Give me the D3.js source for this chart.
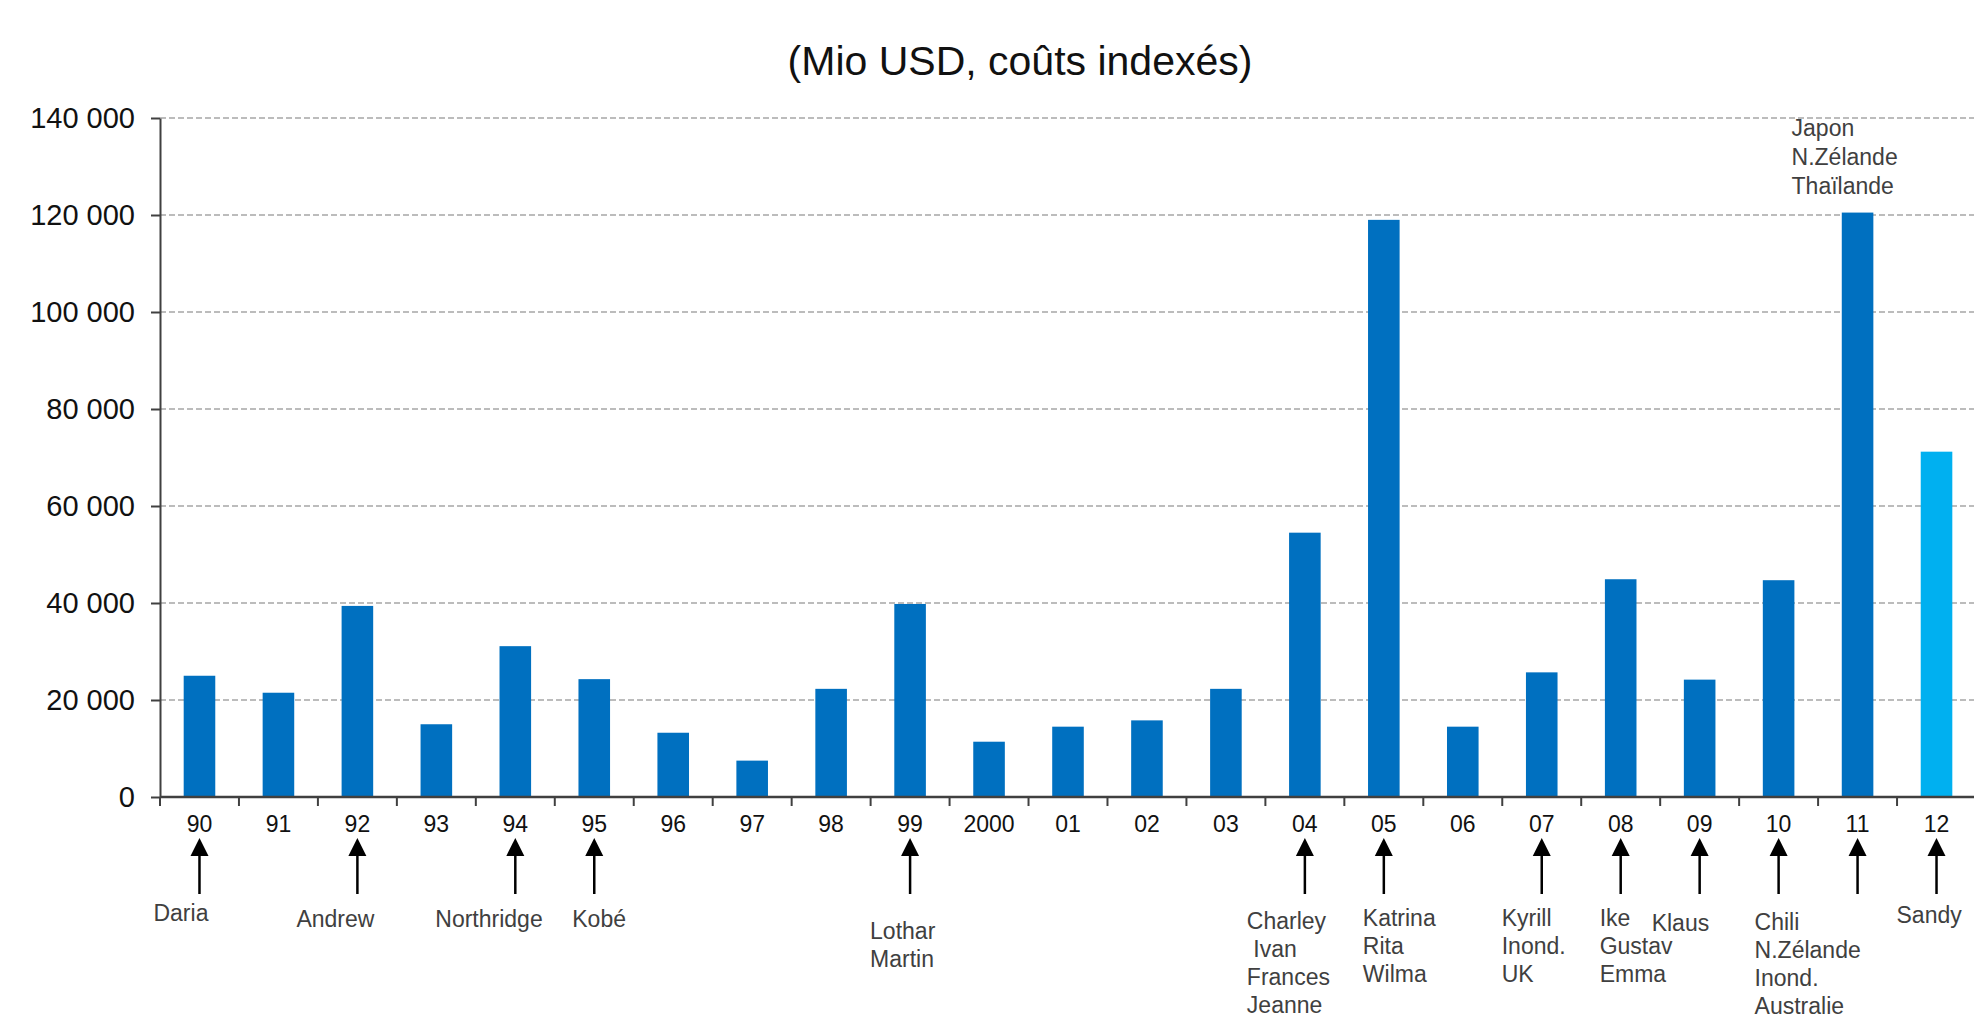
<!DOCTYPE html>
<html>
<head>
<meta charset="utf-8">
<script src="https://cdn.jsdelivr.net/npm/d3@7"></script>
<style>
  body { margin: 0; background: #fff; }
  text { font-family: "Liberation Sans", Arial, sans-serif; }
</style>
</head>
<body>
<script>
// data
const years = ["90","91","92","93","94","95","96","97","98","99","2000","01","02","03","04","05","06","07","08","09","10","11","12"];
const costs = [25000,21500,39400,15000,31100,24300,13250,7500,22300,39800,11400,14500,15800,22300,54500,119000,14500,25700,44900,24200,44700,120500,71200];
const yTicks = [0,20000,40000,60000,80000,100000,120000,140000];
const arrowYears = ["90","92","94","95","99","04","05","07","08","09","10","11","12"];
const noteYears = ["90","92","94","95","99","04","05","07","08","09","10","12"];
const noteLines = [["Daria"],["Andrew"],["Northridge"],["Kobé"],["Lothar","Martin"],
  ["Charley"," Ivan","Frances","Jeanne"],["Katrina","Rita","Wilma"],["Kyrill","Inond.","UK"],
  ["Ike","Gustav","Emma"],["Klaus"],["Chili","N.Zélande","Inond.","Australie"],["Sandy"]];
const topNoteYear = "11";
const topNoteLines = ["Japon","N.Zélande","Thaïlande"];
const title = "(Mio USD, coûts indexés)";

// layout of the notes (offset from the bar centre, y of the first line)
const noteDx = [-46,-61,-80,-22,-40,-58,-21,-40,-21,-48,-24,-40];
const noteTop = [913,919,919,919,931,921,918,918,918,923,922,915];

const w = 1974, h = 1022;
const padLeft = 160, padTop = 118, axisY = 797, padRight = 1976;

const svg = d3.select("body").append("svg")
  .attr("width", w).attr("height", h);

const x = d3.scaleBand().domain(years).range([padLeft, padRight])
  .paddingInner(0.6).paddingOuter(0.3);
const y = d3.scaleLinear().domain([0, 140000]).range([axisY, padTop]);

const fmt = d3.formatLocale({decimal: ",", thousands: " ", grouping: [3], currency: ["", ""]}).format(",");

svg.append("text")
  .attr("x", 1020).attr("y", 75)
  .attr("text-anchor", "middle")
  .style("font-size", "41px")
  .attr("fill", "#111")
  .text(title);

// grid
svg.append("g").selectAll("line")
  .data(yTicks.filter(d => d > 0))
  .enter().append("line")
  .attr("x1", padLeft).attr("x2", w)
  .attr("y1", d => y(d)).attr("y2", d => y(d))
  .attr("stroke", "#a6a6a6").attr("stroke-width", 1.5)
  .attr("stroke-dasharray", "6,3");

// bars
svg.append("g").selectAll("rect")
  .data(costs)
  .enter().append("rect")
  .attr("x", (d, i) => x(years[i]))
  .attr("y", d => y(d))
  .attr("width", x.bandwidth())
  .attr("height", d => y(0) - y(d))
  .attr("fill", (d, i) => i === costs.length - 1 ? "#00b0f0" : "#0070c0");

// y axis
const yAxis = d3.axisLeft(y).tickValues(yTicks).tickFormat(fmt)
  .tickSize(9).tickSizeOuter(0).tickPadding(16);
const gy = svg.append("g").attr("transform", "translate(" + padLeft + ",0)").call(yAxis);
gy.select(".domain").attr("stroke", "#404040").attr("stroke-width", 2);
gy.selectAll(".tick line").attr("stroke", "#404040").attr("stroke-width", 2);
gy.selectAll("text").style("font-size", "29px").attr("fill", "#111")
  .style("font-family", "'Liberation Sans', Arial, sans-serif");

// x axis: line, boundary ticks, labels
const gap = (x.step() - x.bandwidth()) / 2;
svg.append("line")
  .attr("x1", padLeft).attr("x2", w)
  .attr("y1", axisY).attr("y2", axisY)
  .attr("stroke", "#404040").attr("stroke-width", 2.5);
svg.append("g").selectAll("line")
  .data(years)
  .enter().append("line")
  .attr("x1", d => x(d) - gap).attr("x2", d => x(d) - gap)
  .attr("y1", axisY).attr("y2", axisY + 9)
  .attr("stroke", "#404040").attr("stroke-width", 2);
svg.append("g").selectAll("text")
  .data(years)
  .enter().append("text")
  .attr("x", d => x(d) + x.bandwidth() / 2)
  .attr("y", 824).attr("dy", "0.35em")
  .attr("text-anchor", "middle")
  .style("font-size", "23px").attr("fill", "#111")
  .text(d => d);

// arrows
const mid = d => x(d) + x.bandwidth() / 2;
const arrows = svg.append("g");
arrows.selectAll("line")
  .data(arrowYears)
  .enter().append("line")
  .attr("x1", mid).attr("x2", mid)
  .attr("y1", 852).attr("y2", 894)
  .attr("stroke", "#000").attr("stroke-width", 2.5);
arrows.selectAll("path")
  .data(arrowYears)
  .enter().append("path")
  .attr("d", d => "M" + mid(d) + ",838 L" + (mid(d) - 9) + ",856 L" + (mid(d) + 9) + ",856 Z")
  .attr("fill", "#000");

// event names
noteYears.forEach(function(yr, i) {
  const t = svg.append("text")
    .attr("x", mid(yr) + noteDx[i])
    .attr("y", noteTop[i])
    .style("font-size", "23px")
    .style("white-space", "pre")
    .attr("fill", "#404040");
  noteLines[i].forEach(function(line, j) {
    t.append("tspan")
      .attr("x", mid(yr) + noteDx[i])
      .attr("y", noteTop[i] + j * 28)
      .attr("dy", "0.35em")
      .text(line);
  });
});

const tt = svg.append("text").style("font-size", "23px").attr("fill", "#404040");
topNoteLines.forEach(function(line, j) {
  tt.append("tspan")
    .attr("x", mid(topNoteYear) - 66)
    .attr("y", 128 + j * 29)
    .attr("dy", "0.35em")
    .text(line);
});
</script>
</body>
</html>
